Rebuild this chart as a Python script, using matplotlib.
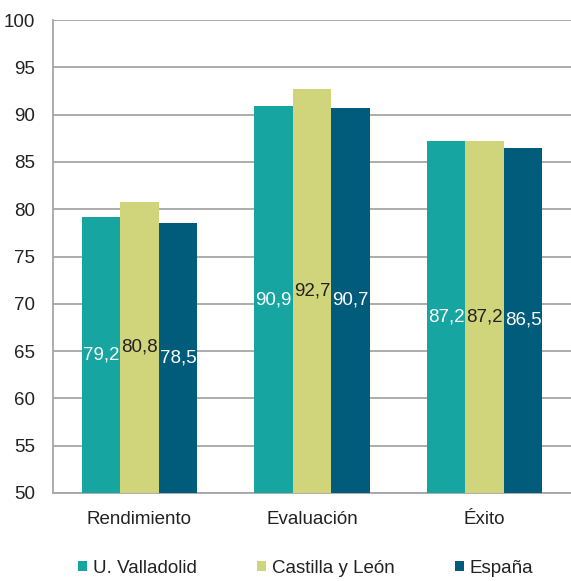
import matplotlib
matplotlib.use("Agg")
import matplotlib.pyplot as plt
import numpy as np
from matplotlib.patches import Patch

plt.rcParams['font.family'] = ['Liberation Sans', 'DejaVu Sans']

categories = ["Rendimiento", "Evaluación", "Éxito"]
series_names = ["U. Valladolid", "Castilla y León", "España"]
valladolid = [79.2, 90.9, 87.2]
castilla = [80.8, 92.7, 87.2]
espana = [78.5, 90.7, 86.5]
yticks = [50, 55, 60, 65, 70, 75, 80, 85, 90, 95, 100]

colors = ["#16A5A1", "#D0D47A", "#015C7B"]
label_colors = ["white", "#222222", "white"]

fig = plt.figure(figsize=(5.71, 5.81), dpi=100)
ax = fig.add_axes([0.093, 0.1515, 0.907, 0.814])

x = np.arange(len(categories))
w = 0.223
base = 50
for i, (vals, c, lc) in enumerate(zip([valladolid, castilla, espana], colors, label_colors)):
    pos = x + (i - 1) * w
    ax.bar(pos, [v - base for v in vals], width=w, bottom=base, color=c, zorder=3)
    for p, v in zip(pos, vals):
        ax.text(p, (base + v) / 2, f"{v:.1f}".replace(".", ","), ha="center", va="center",
                color=lc, fontsize=13.5, zorder=4)

ax.set_xlim(-0.5, 2.5)
ax.set_ylim(50, 100)
ax.set_yticks(yticks)
ax.set_yticklabels([str(t) for t in yticks], fontsize=13.5, color="#222222")
ax.set_xticks(x)
ax.set_xticklabels(categories, fontsize=13.5, color="#222222")
ax.tick_params(axis="y", length=0, pad=13)
ax.tick_params(axis="x", length=0, pad=13)
ax.grid(axis="y", color="#A6A6A6", linewidth=1.3, zorder=0)
for s in ["top", "right"]:
    ax.spines[s].set_visible(False)
for s in ["left", "bottom"]:
    ax.spines[s].set_color("#A6A6A6")
    ax.spines[s].set_linewidth(1.3)

handles = [Patch(facecolor=c, label=n) for c, n in zip(colors, series_names)]
fig.legend(handles=handles, loc="center left", bbox_to_anchor=(0.12, 0.022), ncol=3,
           frameon=False, fontsize=13.5, handlelength=0.5, handleheight=0.5,
           handletextpad=0.3, columnspacing=3.2, labelcolor="#222222",
           borderpad=0.0)

fig.savefig("out.png", dpi=100)
